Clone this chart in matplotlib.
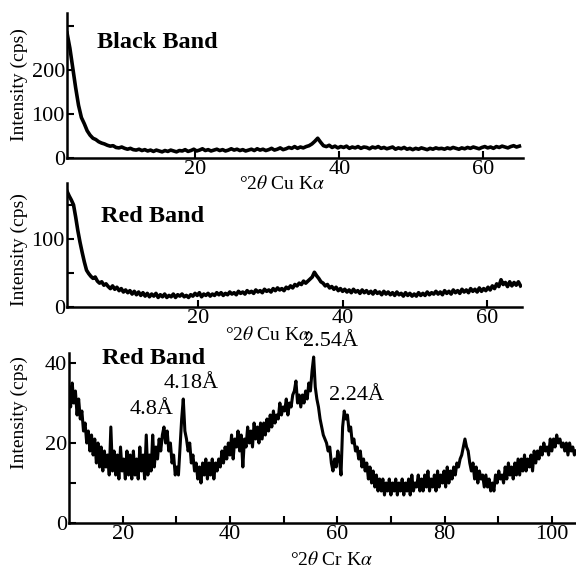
import matplotlib
matplotlib.use('Agg')
import matplotlib.pyplot as plt
import numpy as np

# --- data ---
# Black band, Cu K-alpha, 2.2 .. 65.0 deg in 0.4 deg steps
black_start, black_step = 2.2, 0.4
black_cps = [
    285, 250, 205, 160, 120, 92, 78, 62, 52, 45,
    42, 37, 34, 32, 29, 27, 28, 24, 23, 25,
    22, 20, 22, 19, 18, 20, 17, 19, 16, 18,
    15, 18, 16, 14, 17, 15, 18, 16, 14, 17,
    16, 19, 15, 17, 20, 16, 18, 21, 17, 19,
    16, 18, 20, 17, 19, 16, 18, 21, 18, 20,
    17, 19, 16, 18, 20, 17, 21, 18, 20, 17,
    19, 22, 18, 20, 23, 19, 21, 24, 22, 26,
    22, 25, 23, 26, 28, 32, 38, 45, 36, 28,
    26, 29, 24, 27, 23, 26, 24, 27, 22, 25,
    23, 26, 22, 25, 24, 21, 25, 23, 26, 22,
    24, 21, 23, 25, 20, 23, 21, 24, 20, 22,
    19, 22, 20, 23, 21, 19, 22, 20, 23, 21,
    22, 20, 23, 21, 24, 22, 20, 23, 21, 24,
    22, 25, 23, 21, 24, 26, 23, 25, 22, 26,
    24, 27, 25, 23, 26, 28, 25, 27,
]

# Red band, Cu K-alpha, 1.9 .. 64.6 deg in 0.3 deg steps
redcu_start, redcu_step = 1.9, 0.3
redcu_cps = [
    170, 163, 157, 150, 132, 112, 95, 80, 66, 54,
    49, 45, 42, 44, 38, 35, 37, 32, 34, 30,
    27, 31, 26, 29, 24, 27, 22, 25, 21, 24,
    19, 23, 18, 22, 17, 21, 16, 20, 15, 19,
    16, 20, 14, 18, 15, 19, 14, 17, 15, 19,
    14, 18, 16, 19, 15, 17, 14, 18, 16, 20,
    17, 21, 15, 19, 17, 20, 16, 19, 17, 21,
    18, 21, 17, 20, 18, 22, 19, 21, 18, 23,
    20, 22, 19, 24, 21, 23, 20, 25, 22, 24,
    21, 26, 23, 25, 22, 27, 24, 28, 25, 27,
    24, 29, 27, 31, 28, 33, 31, 35, 33, 38,
    35, 38, 41, 44, 51, 46, 42, 37, 35, 31,
    33, 28, 30, 26, 29, 24, 27, 23, 26, 22,
    25, 21, 26, 22, 24, 20, 25, 21, 24, 20,
    23, 19, 24, 20, 22, 18, 23, 19, 22, 18,
    21, 17, 22, 18, 20, 16, 21, 17, 20, 16,
    19, 16, 21, 17, 20, 17, 22, 18, 21, 19,
    23, 19, 22, 18, 24, 20, 23, 19, 25, 21,
    24, 20, 26, 22, 25, 21, 27, 23, 26, 22,
    28, 23, 27, 24, 29, 25, 31, 27, 34, 30,
    40, 33, 36, 30, 37, 31, 36, 32, 37, 31,
]

# Red band, Cr K-alpha, 10.0 .. 104.5 deg in 0.3 deg steps
redcr_start, redcr_step = 10.0, 0.3
redcr_cps = [
    34, 29, 35, 30, 33, 27, 31, 26, 28, 23,
    25, 20, 23, 18, 22, 17, 21, 15, 20, 14,
    19, 13, 18, 14, 17, 12, 24, 13, 18, 12,
    17, 11, 19, 13, 16, 11, 18, 12, 17, 11,
    18, 12, 16, 11, 19, 13, 17, 11, 22, 12,
    17, 13, 22, 14, 19, 16, 21, 18, 22, 24,
    20, 23, 18, 20, 15, 17, 12, 14, 12, 19,
    26, 31, 23, 21, 18, 20, 15, 17, 13, 15,
    11, 14, 10, 15, 12, 16, 11, 15, 12, 16,
    11, 15, 13, 16, 14, 18, 15, 19, 16, 20,
    17, 22, 16, 21, 19, 23, 18, 22, 14, 21,
    19, 24, 20, 23, 19, 25, 21, 24, 20, 25,
    21, 25, 22, 26, 23, 27, 24, 28, 25, 27,
    26, 30, 27, 29, 28, 31, 27, 30, 29, 32,
    33, 35.5, 30, 32, 29, 32, 30, 33, 31, 35,
    33, 38, 41.5, 34, 31, 29, 26, 24, 22, 21,
    20, 18, 19, 15, 13, 16, 14, 18, 16, 12,
    24, 28, 26, 27, 23, 24, 20, 21, 18, 19,
    16, 18, 14, 16, 13, 15, 11, 14, 10, 13,
    9, 12, 8, 11, 8, 11, 7, 10, 8, 11,
    7, 10, 8, 11, 7, 10, 8, 11, 7, 10,
    8, 11, 7, 12, 8, 10, 9, 12, 8, 11,
    8, 12, 9, 13, 8, 11, 9, 12, 8, 13,
    9, 12, 10, 13, 9, 14, 10, 13, 11, 14,
    12, 15, 14, 16, 17, 19, 21, 19, 18, 15,
    13, 15, 11, 14, 10, 13, 11, 12, 9, 12,
    9, 11, 8, 10, 8, 12, 10, 13, 11, 12,
    10, 14, 11, 15, 12, 14, 11, 15, 12, 16,
    12, 16, 13, 17, 13, 16, 14, 17, 13, 18,
    15, 18, 16, 19, 17, 20, 18, 19, 17, 21,
    18, 21, 19, 22, 20, 21, 19, 20, 18, 20,
    17, 20, 18, 19, 17, 18,
]

peak_labels = ['4.8Å', '4.18Å', '2.54Å', '2.24Å']

plt.rcParams['font.family'] = ['Liberation Serif', 'DejaVu Serif']
plt.rcParams['mathtext.fontset'] = 'stix'

W, H = 576, 572
fig = plt.figure(figsize=(W / 100, H / 100), dpi=100)


def px(x, y):
    return x / W, 1 - y / H


def scan_x(start, step, vals):
    return start + step * np.arange(len(vals))


def style(ax, xlim, ylim, xt, xl, yt, yl):
    ax.set_xlim(*xlim)
    ax.set_ylim(*ylim)
    for s in ['top', 'right']:
        ax.spines[s].set_visible(False)
    for s in ['left', 'bottom']:
        ax.spines[s].set_linewidth(1.8)
    ax.set_xticks(xt)
    ax.set_xticklabels(xl)
    ax.set_yticks(yt)
    ax.set_yticklabels(yl)
    ax.tick_params(direction='in', length=5, width=1.5, labelsize=16, pad=1.5)


def add_axes(left, top, right, bottom):
    l, t = px(left, top)
    r, b = px(right, bottom)
    return fig.add_axes([l, b, r - l, t - b])


# panel 1
ax1 = add_axes(67, 13, 523, 158)
ax1.plot(scan_x(black_start, black_step, black_cps), black_cps, color='black', lw=2.6)
style(ax1, (black_start, 65.5), (0, 330), [20, 40, 60], ['20', '40', '60'],
      [0, 100, 200, 300], ['0', '100', '200', ''])

# panel 2
ax2 = add_axes(67, 183, 522, 307)
ax2.plot(scan_x(redcu_start, redcu_step, redcu_cps), redcu_cps, color='black', lw=2.6)
style(ax2, (redcu_start, 64.8), (0, 182), [20, 40, 60], ['20', '40', '60'],
      [0, 50, 100, 150], ['0', '', '100', ''])

# panel 3
ax3 = add_axes(69, 353, 576, 523)
ax3.plot(scan_x(redcr_start, redcr_step, redcr_cps), redcr_cps, color='black', lw=2.2)
style(ax3, (redcr_start, 104.5), (0, 42.5),
      [20, 30, 40, 50, 60, 70, 80, 90, 100],
      ['20', '', '40', '', '60', '', '80', '', '100'],
      [0, 10, 20, 30, 40], ['0', '', '20', '', '40'])

# texts
tkw = dict(ha='center', va='center')
fig.text(*px(157, 42), 'Black Band', fontsize=17.5, fontweight='bold', **tkw)
fig.text(*px(153, 216), 'Red Band', fontsize=17.5, fontweight='bold', **tkw)
fig.text(*px(154, 358), 'Red Band', fontsize=17.5, fontweight='bold', **tkw)

for yc in [85, 250, 413]:
    fig.text(*px(19, yc), 'Intensity (cps)', fontsize=14, rotation=90, **tkw)

fig.text(*px(282, 184), '°2$\\theta$ Cu K$\\alpha$', fontsize=14, **tkw)
fig.text(*px(268, 335), '°2$\\theta$ Cu K$\\alpha$', fontsize=14, **tkw)
fig.text(*px(331, 560), '°2$\\theta$ Cr K$\\alpha$', fontsize=14, **tkw)

fig.text(*px(152, 410), peak_labels[0], fontsize=16, **tkw)
fig.text(*px(191, 384), peak_labels[1], fontsize=16, **tkw)
fig.text(*px(331, 341), peak_labels[2], fontsize=16, **tkw)
fig.text(*px(357, 396), peak_labels[3], fontsize=16, **tkw)

fig.savefig('out.png', dpi=100)
